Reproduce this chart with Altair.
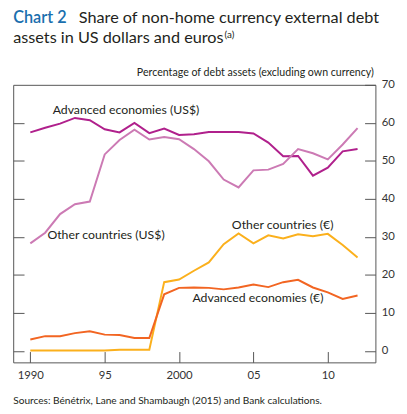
import altair as alt
import pandas as pd

years = list(range(1990, 2013))
adv_usd = [57.5, 58.7, 59.8, 61.3, 60.7, 58.3, 57.5, 60.0, 57.3, 58.5, 56.8, 57.0,
           57.6, 57.6, 57.6, 57.2, 54.8, 51.2, 51.3, 46.1, 48.2, 52.5, 53.1]
oth_usd = [28.3, 31.1, 36.0, 38.6, 39.3, 51.7, 55.5, 58.2, 55.6, 56.3, 55.7, 53.1,
           49.9, 45.1, 43.0, 47.5, 47.7, 49.2, 53.1, 52.0, 50.4, 54.3, 58.6]
oth_eur = [0.1, 0.1, 0.1, 0.1, 0.1, 0.1, 0.3, 0.3, 0.3, 18.1, 18.8, 21.1,
           23.3, 28.1, 30.9, 28.3, 30.4, 29.6, 30.7, 30.2, 30.8, 27.9, 24.6]
adv_eur = [3.0, 3.9, 3.9, 4.7, 5.2, 4.3, 4.2, 3.4, 3.4, 14.9, 16.6, 16.7,
           16.6, 16.2, 16.7, 17.5, 16.8, 18.1, 18.7, 16.7, 15.4, 13.7, 14.6]

series_names = ["Advanced economies (US$)", "Other countries (US$)",
                "Other countries (€)", "Advanced economies (€)"]
series_colors = ["#b0208c", "#cc7ab4", "#fbb01c", "#f26522"]

label_x = [1991.5, 1991.15, 2003.55, 2000.9]
label_y = [63.3, 30.4, 33.0, 14.0]

x_ticks = [1990, 1995, 2000, 2005, 2010]
x_tick_labels = ["1990", "95", "2000", "05", "10"]
y_ticks = [0, 10, 20, 30, 40, 50, 60, 70]

rows = []
for name, vals in zip(series_names, [adv_usd, oth_usd, oth_eur, adv_eur]):
    for yr, v in zip(years, vals):
        rows.append({"year": yr, "value": v, "series": name})
df = pd.DataFrame(rows)
labels_df = pd.DataFrame({"series": series_names, "x": label_x, "y": label_y})

W, H = 368.4, 282.3
FONT = "Lato"
xscale = alt.Scale(domain=[1988.85, 2013.2], nice=False, zero=False)
yscale = alt.Scale(domain=[-3, 70], nice=False, zero=False)
color = alt.Color("series:N", scale=alt.Scale(domain=series_names, range=series_colors), legend=None)

label_expr = "{" + ",".join(f"'{t}':'{l}'" for t, l in zip(x_ticks, x_tick_labels)) + "}[datum.value]"

lines = alt.Chart(df).mark_line(strokeWidth=2).encode(
    x=alt.X("year:Q", scale=xscale,
            axis=alt.Axis(orient="bottom", values=x_ticks, labelExpr=label_expr, offset=-11,
                          tickSize=11, labelPadding=7, domain=False, grid=False, title=None,
                          labelFontSize=11.5, labelColor="#333", tickColor="#555", labelFont=FONT)),
    y=alt.Y("value:Q", scale=yscale,
            axis=alt.Axis(orient="right", values=y_ticks, offset=-11, tickSize=11, labelPadding=6,
                          domain=False, grid=False, title=None, labelFontSize=11.5,
                          labelColor="#333", tickColor="#555", labelFont=FONT)),
    color=color,
    detail="series:N",
)

left_axis = alt.Chart(df).mark_line(opacity=0).encode(
    x=alt.X("year:Q", scale=xscale, axis=None),
    y=alt.Y("value:Q", scale=yscale,
            axis=alt.Axis(orient="left", values=y_ticks[:-1], offset=-11, tickSize=11,
                          labels=False, domain=False, grid=False, title=None, tickColor="#555")),
    detail="series:N",
)

labels = alt.Chart(labels_df).mark_text(align="left", baseline="middle", font=FONT,
                                        fontSize=12.5, color="#231f20").encode(
    x=alt.X("x:Q", scale=xscale, axis=None),
    y=alt.Y("y:Q", scale=yscale, axis=None),
    text="series:N",
)

def txt(text, x, y, size, color="#231f20", align="left", weight="normal"):
    return alt.Chart(pd.DataFrame({"t": [text]})).mark_text(
        align=align, baseline="alphabetic", font=FONT, fontSize=size, color=color,
        fontWeight=weight).encode(x=alt.value(x), y=alt.value(y), text="t:N")

t1 = txt("Chart 2", 0, -62.5, 16.5, color="#1a6fae", weight=600)
t2 = txt("Share of non-home currency external debt", 66.7, -62.5, 16.5)
t3 = txt("assets in US dollars and euros", 0, -43, 16.5)
t4 = txt("(a)", 215, -48, 10)
t5 = txt("Percentage of debt assets (excluding own currency)", W - 1.5, -8.5, 10.8, align="right")
t6 = txt("Sources:  Bénétrix, Lane and Shambaugh (2015) and Bank calculations.", 0, 325, 10.3)

chart = alt.layer(left_axis, lines, labels, t1, t2, t3, t4, t5, t6).resolve_axis(
    y="independent", x="independent"
).properties(
    width=W, height=H,
    padding={"left": 5.3, "top": 74.7, "right": 24, "bottom": 46},
    autosize=alt.AutoSizeParams(type="none"),
).configure_view(stroke="#555", strokeWidth=1)

chart.save("out.html", embed_options={"renderer": "svg", "actions": False})
